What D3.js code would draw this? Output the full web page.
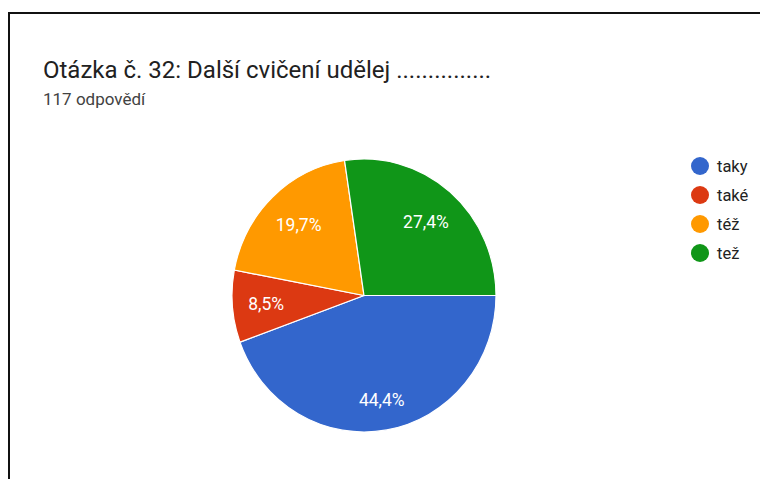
<!DOCTYPE html>
<html>
<head>
<meta charset="utf-8">
<script src="https://cdn.jsdelivr.net/npm/d3@7"></script>
<style>
  html, body { margin: 0; padding: 0; background: #fff; }
  svg { display: block; font-family: Roboto, "Noto Sans", Arial, sans-serif; }
</style>
</head>
<body>
<svg id="chart" width="760" height="479"></svg>
<script>
const categories = ["taky", "také", "též", "tež"];
const counts = [52, 10, 23, 32];
const percentLabels = ["44,4%", "8,5%", "19,7%", "27,4%"];
const colors = ["#3366cc", "#dc3912", "#ff9900", "#109618"];
const titleText = "Otázka č. 32: Další cvičení udělej ...............";
const subtitleText = "117 odpovědí";

const svg = d3.select("#chart");
const W = 760, H = 479;

// frame
svg.append("path")
  .attr("d", `M9,${H} L9,13 L${W},13`)
  .attr("fill", "none").attr("stroke", "#111").attr("stroke-width", 2);

svg.append("text").attr("x", 43).attr("y", 78)
  .attr("font-size", 24).attr("fill", "#212121").text(titleText);
svg.append("text").attr("x", 43).attr("y", 105)
  .attr("font-size", 17).attr("fill", "#424242").text(subtitleText);

const cx = 364, cy = 295.5, R = 132;
const pie = d3.pie().value(d => d).sort(null)
  .startAngle(Math.PI / 2).endAngle(Math.PI / 2 + 2 * Math.PI);
const arcs = pie(counts);
const arc = d3.arc().innerRadius(0).outerRadius(R);

const g = svg.append("g").attr("transform", `translate(${cx},${cy}) scale(1,1.034)`);
g.selectAll("path.slice").data(arcs).enter().append("path")
  .attr("class", "slice")
  .attr("d", arc)
  .attr("fill", (d, i) => colors[i])
  .attr("stroke", "#fff").attr("stroke-width", 1.2);

const fs = 17.5;
const rho = 117;
g.selectAll("text.lbl").data(arcs).enter().append("text")
  .attr("class", "lbl")
  .attr("font-size", fs).attr("fill", "#fff")
  .attr("text-anchor", "middle")
  .attr("dy", "0.35em")
  .text((d, i) => percentLabels[i])
  .each(function(d) {
    const bb = this.getBBox();
    const w = bb.width / 2, h = fs * 0.5;
    const a = (d.startAngle + d.endAngle) / 2;
    const ux = Math.sin(a), uy = -Math.cos(a);
    const c = [Math.sign(ux) * w, Math.sign(uy) * h];
    const uc = ux * c[0] + uy * c[1];
    const dist = -uc + Math.sqrt(uc * uc - (c[0] * c[0] + c[1] * c[1]) + rho * rho);
    d3.select(this).attr("x", dist * ux).attr("y", dist * uy);
  });

// legend
const lg = svg.append("g").attr("transform", "translate(700,166)");
const items = lg.selectAll("g").data(categories).enter().append("g")
  .attr("transform", (d, i) => `translate(0,${i * 29})`);
items.append("circle").attr("r", 9).attr("fill", (d, i) => colors[i]);
items.append("text").attr("x", 17).attr("dy", "0.35em")
  .attr("font-size", 16.5).attr("fill", "#222").text(d => d);
</script>
</body>
</html>
